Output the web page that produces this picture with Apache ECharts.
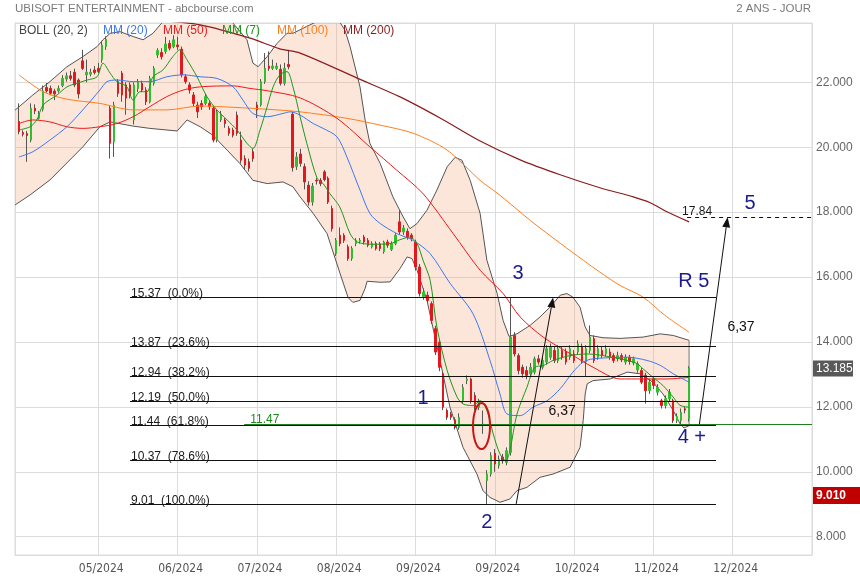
<!DOCTYPE html>
<html><head><meta charset="utf-8">
<script src="https://cdn.jsdelivr.net/npm/echarts@6/dist/echarts.min.js"></script>
<style>html,body{margin:0;padding:0;background:#fff}#c{width:860px;height:580px}</style>
</head><body><div id="c"></div>
<script>
// ---------- DATA ----------
const firstIndex = 1; // category index of the first candle
// candles: [open, close, low, high]
const candles = [
[20.79,20.48,20.40,21.35],[20.45,20.40,20.33,20.52],[20.42,20.36,19.55,20.50],[20.22,21.20,20.15,21.35],[21.20,21.12,21.02,21.32],
[20.89,21.04,20.85,21.12],[21.17,21.73,21.10,21.90],[21.84,21.73,21.68,21.98],[21.81,21.66,21.60,21.90],[21.73,21.64,21.45,21.80],
[21.73,21.81,21.68,21.90],[21.90,22.12,21.85,22.22],[22.10,22.20,22.02,22.30],[22.20,22.12,22.05,22.35],[22.31,21.92,21.85,22.42],
[22.07,21.64,21.50,22.12],[22.66,22.43,22.38,23.00],[22.23,22.31,22.00,22.70],[22.25,22.31,22.18,22.42],[22.38,22.30,22.24,22.50],
[22.43,22.33,22.28,22.60],[22.69,23.15,22.60,23.28],[23.10,23.33,23.00,23.42],[21.20,20.12,19.65,21.30],[20.17,21.30,19.70,21.40],
[22.02,21.66,21.55,22.10],[22.28,21.61,21.40,22.35],[21.92,21.51,21.00,22.00],[21.92,21.61,21.50,22.00],[20.84,21.92,20.70,22.00],
[21.81,22.02,21.70,22.10],[21.97,21.76,21.70,22.05],[21.76,21.40,21.30,21.85],[21.40,22.12,21.35,22.20],[21.97,22.43,21.90,22.50],
[22.84,22.98,22.75,23.05],[22.92,22.79,22.70,23.05],[22.95,23.18,22.88,23.40],[23.20,23.05,22.98,23.30],[23.10,23.31,23.05,23.45],
[23.15,23.10,23.00,23.40],[23.02,22.23,22.15,23.10],[22.17,22.02,21.95,22.25],[21.92,21.76,21.65,22.00],[21.61,21.35,21.25,21.70],
[21.30,21.09,20.90,21.40],[21.35,21.25,21.15,21.45],[21.35,21.56,21.30,21.65],[21.35,21.25,21.15,21.45],[21.20,20.22,20.15,21.25],
[20.22,21.09,20.15,21.15],[20.84,21.02,20.78,21.12],[20.84,20.73,20.60,20.90],[20.58,20.43,20.35,20.65],[20.53,20.37,20.30,20.60],
[20.99,20.43,20.35,21.10],[20.22,19.60,19.50,20.48],[19.65,19.45,19.30,19.75],[19.55,19.35,19.25,19.65],[19.86,19.65,19.55,19.95],
[21.30,21.15,20.90,21.40],[21.30,22.02,21.25,22.10],[22.02,22.43,21.95,22.90],[22.50,22.43,22.35,22.95],[22.43,22.50,22.38,22.70],
[22.43,22.50,22.38,22.60],[22.40,21.97,21.90,22.55],[21.97,22.43,21.90,22.60],[22.55,22.48,22.40,23.00],[21.02,19.37,19.25,21.10],
[19.40,19.70,19.30,19.85],[19.79,19.50,19.40,19.95],[19.40,18.93,18.70,19.50],[18.83,18.31,18.20,18.95],[18.31,18.80,18.20,18.90],
[18.98,18.96,18.85,19.05],[18.98,18.88,18.80,19.05],[19.24,19.00,18.95,19.30],[19.04,18.31,18.25,19.10],[18.11,17.49,17.40,18.20],
[16.72,17.13,16.65,17.20],[17.29,17.03,16.95,17.53],[17.29,17.13,17.05,17.35],[16.93,16.57,16.50,17.00],[16.57,16.88,16.50,16.95],
[17.03,17.13,16.95,17.20],[17.10,17.13,17.03,17.20],[17.23,17.08,17.00,17.30],[17.13,16.98,16.92,17.20],[16.93,17.03,16.88,17.10],
[17.03,16.88,16.82,17.10],[17.02,16.88,16.80,17.08],[16.78,17.08,16.72,17.12],[17.08,16.98,16.90,17.15],[16.85,17.03,16.80,17.10],
[17.03,17.29,16.98,17.35],[17.70,17.39,17.30,18.05],[17.39,17.51,17.30,17.60],[17.41,17.24,17.15,17.50],[17.29,17.19,17.10,17.35],
[17.08,16.31,16.20,17.15],[16.31,15.49,15.40,16.40],[15.40,15.54,15.30,15.65],[15.44,15.28,15.20,15.55],[15.18,14.66,14.55,15.25],
[14.41,13.69,13.60,14.50],[13.99,13.22,13.10,14.05],[13.02,11.99,11.90,13.10],[11.89,11.68,11.60,11.95],[11.78,11.68,11.60,11.85],
[11.60,11.37,11.30,11.68],[11.37,11.68,11.30,11.80],[12.19,12.60,12.10,12.70],[12.81,12.86,12.70,12.97],[12.86,12.19,12.10,12.90],
[12.35,11.99,11.90,12.45],[11.99,12.14,11.90,12.25],[11.47,11.44,11.17,11.89],[9.73,9.93,9.01,10.05],[9.93,10.50,9.85,10.60],
[10.57,10.24,10.00,10.70],[10.19,10.39,10.10,10.50],[10.45,10.34,10.25,10.55],[10.29,10.65,10.20,10.75],[10.60,14.15,10.50,15.37],
[14.20,13.63,13.55,14.30],[13.58,13.12,13.00,13.65],[13.22,13.02,12.90,13.30],[13.12,12.97,12.85,13.25],[13.02,13.22,12.95,13.35],
[13.07,13.48,13.00,13.55],[13.48,13.38,13.30,13.60],[13.22,13.43,13.15,13.55],[13.38,13.79,13.30,13.90],[13.53,13.84,13.45,13.95],
[13.74,13.43,13.35,13.85],[13.43,13.79,13.35,13.90],[13.74,13.53,13.45,13.85],[13.69,13.38,13.30,13.80],[13.53,13.79,13.45,13.90],
[13.63,13.43,13.35,13.75],[13.69,13.94,13.60,14.05],[13.86,13.43,13.35,13.95],[13.38,13.79,12.95,13.90],[13.74,14.15,13.65,14.51],
[14.10,13.43,13.35,14.20],[13.53,13.79,13.45,13.90],[13.74,13.58,13.50,13.85],[13.63,13.79,13.55,13.90],[13.69,13.53,13.45,13.80],
[13.58,13.43,13.35,13.65],[13.48,13.58,13.40,13.70],[13.58,13.45,13.38,13.65],[13.38,13.53,13.30,13.62],[13.53,13.40,13.30,13.60],
[13.35,13.48,13.28,13.55],[13.14,13.33,13.05,13.40],[13.12,12.76,12.70,13.20],[12.97,12.50,12.10,13.05],[12.50,12.76,12.40,12.85],
[12.86,12.66,12.55,12.95],[12.45,12.60,12.35,12.70],[12.19,12.04,11.95,12.25],[12.04,12.25,11.95,12.35],[12.25,12.45,12.15,12.55],
[12.19,11.58,11.50,12.25],[11.58,11.70,11.50,11.80],[11.58,11.83,11.47,11.95],[11.94,11.90,11.80,12.00],[11.63,13.185,11.55,13.25]
];
// indicator lines: [category index, value]
const mm7 = [[1,20.53],[3.8,20.63],[5.5,20.84],[7.1,21.30],[10.6,21.61],[13.1,21.86],[15.6,21.97],[18.2,22.07],[20.7,22.17],[22.2,22.59],[24,22.28],[25.7,22.02],[28.2,21.86],[29.8,21.45],[31.5,21.71],[33.3,21.71],[34.8,22.17],[37.3,22.38],[39.8,22.79],[41.6,23.0],[43.4,22.69],[45.9,22.17],[48.4,21.56],[50.9,21.15],[53.5,20.84],[56,20.53],[58.5,20.12],[60,19.96],[61.8,20.53],[63.6,21.25],[65.1,21.86],[66.8,22.23],[68.6,22.33],[70.1,21.86],[71.9,20.94],[73.6,20.12],[76.2,19.04],[77.7,18.88],[79.4,18.57],[81.9,18.16],[84.5,17.34],[86.3,17.08],[90.3,17.01],[94.6,17.03],[97.1,17.15],[99.6,17.23],[101.4,17.03],[102.9,16.52],[104.7,15.90],[106.4,14.46],[109,13.12],[111.5,12.30],[113,12.09],[115.5,12.04],[117.3,12.19],[119,11.89],[120.6,11.17],[122.3,10.55],[123.8,10.34],[124.8,10.65],[126.6,11.78],[129.1,12.60],[131.1,13.22],[133.2,13.27],[135.7,13.43],[140,13.58],[144.3,13.63],[148.3,13.58],[154.4,13.43],[156.9,13.33],[158.4,13.17],[160.9,12.91],[163.4,12.66],[166,12.30],[167.7,12.05],[170,11.99]];
const mm20 = [[1,19.70],[4.5,19.86],[8.8,20.22],[13.1,20.63],[17.1,21.15],[21.4,21.76],[23.2,22.02],[25.7,22.07],[29.8,22.02],[34,22.02],[38.3,22.17],[42.4,22.23],[46.7,22.17],[50.9,22.12],[55,21.86],[57.5,21.45],[60,21.04],[63.6,20.94],[67.6,21.04],[69.4,21.09],[71.9,20.99],[75.2,20.73],[77.7,20.58],[81.2,20.32],[83.7,19.70],[87,18.68],[89.5,17.96],[92.1,17.65],[96.3,17.34],[100.4,17.13],[104.7,16.72],[109.7,15.81],[115.5,14.87],[119.8,13.43],[122.3,12.40],[124.1,11.78],[127.4,11.73],[130.6,11.99],[134.2,12.19],[137.5,12.56],[140.7,13.07],[143.3,13.38],[145.8,13.48],[154.4,13.53],[159.4,13.43],[162.7,13.28],[166,13.02],[170,12.76]];
const mm50 = [[1,20.73],[4.5,20.84],[8.8,20.78],[13.1,20.63],[17.1,20.58],[21.4,20.63],[25.7,20.73],[29.8,20.94],[34,21.25],[38.3,21.56],[42.4,21.76],[46.7,21.86],[55,21.89],[59.3,21.81],[63.6,21.74],[71.9,21.52],[81.2,20.89],[89.5,20.01],[96.3,19.29],[102.9,18.57],[110.5,17.34],[117.3,16.21],[123.1,15.49],[127.4,14.77],[133.2,14.15],[140,13.64],[145.8,13.22],[152.6,12.86],[158.4,12.86],[164.4,12.86],[170,12.91]];
const mm100 = [[1,22.23],[7.1,21.71],[13.1,21.48],[21.4,21.35],[29.8,21.15],[38.3,21.15],[46.7,21.27],[55,21.23],[63.6,21.17],[71.9,21.09],[83.7,20.89],[92.1,20.68],[100.4,20.43],[109,19.91],[117.3,18.98],[122.3,18.52],[129.9,17.75],[137.5,17.04],[143.3,16.52],[147.5,16.15],[152.6,15.74],[158.4,15.38],[163.9,14.82],[170,14.30]];
const mm200 = [[36.6,23.90],[46.7,23.77],[59.3,23.36],[66.8,23.03],[71.9,22.90],[86.3,22.13],[97.1,21.55],[107.2,20.90],[117.3,20.19],[127.4,19.61],[137.5,19.15],[147.5,18.75],[155.9,18.47],[160.2,18.29],[164.4,18.01],[170,17.70]];
const bollUpper = [[0,21.14],[4.5,21.61],[8.8,22.02],[13.1,22.48],[17.1,22.79],[20.7,23.10],[22.2,23.31],[24,23.51],[26.5,23.56],[29.8,23.41],[32.3,23.31],[34.8,23.51],[36.6,23.77],[39.1,24.08],[46.7,24.40],[53,24.17],[55,23.82],[58.5,23.31],[60,22.59],[61.3,22.48],[63.6,22.79],[66.1,23.20],[68.6,23.51],[70.1,23.51],[73.6,23.72],[76.9,23.92],[80.7,24.08],[83.2,23.61],[84.5,23.10],[87,21.86],[88.3,20.84],[89.5,20.12],[92.1,19.50],[95.3,18.47],[97.9,17.85],[99.6,17.49],[101.4,17.65],[103.9,18.06],[106.4,18.68],[109,19.40],[111,19.69],[112.7,19.60],[114.8,18.98],[117.3,17.96],[119,16.52],[121.6,15.49],[123.1,14.66],[124.6,14.17],[126.6,14.25],[129.9,14.51],[132.4,14.77],[134.9,15.07],[137.5,15.44],[139.2,15.49],[140.7,15.38],[142.5,15.07],[143.8,14.46],[145,14.20],[148.3,14.13],[152.6,14.11],[158.4,14.15],[162.7,14.25],[166,14.20],[170,14.05]];
const bollLower = [[0,18.22],[3.8,18.53],[8.8,18.99],[17.1,20.01],[21.4,20.63],[24,20.78],[29.8,20.65],[34,20.58],[40.9,20.50],[43.4,20.84],[46.7,20.63],[49.9,20.37],[53.5,19.91],[56.7,19.50],[60,18.98],[63.6,18.88],[67.6,18.93],[70.1,18.78],[71.9,18.47],[75.2,17.96],[78.7,17.34],[82,16.10],[84,15.37],[85.2,15.22],[87,15.28],[88.3,15.65],[88.8,15.87],[92.1,15.84],[94.6,15.85],[97.1,16.26],[98.9,16.62],[100.1,16.57],[101.4,16.21],[103.9,15.28],[107.2,13.43],[109.7,11.99],[113,10.75],[116.5,9.93],[118,9.42],[119.8,9.21],[122.3,9.06],[124.8,9.16],[126.6,9.42],[129.1,9.52],[132.4,9.83],[135.7,9.93],[140,10.14],[142.5,10.75],[143.3,11.58],[143.8,12.40],[144.3,12.71],[145.8,12.81],[150.1,12.86],[154.4,13.07],[157.6,13.02],[160.9,12.76],[163.4,12.40],[166,11.89],[167.7,11.48],[168.7,11.35],[170,11.42]];
// Fibonacci retracement
const fibLevels = [15.37, 13.87, 12.94, 12.19, 11.44, 10.37, 9.01];
const fibPct = ['0.0%','23.6%','38.2%','50.0%','61.8%','78.6%','100.0%'];
const fibSpan = [29, 176.8];
const supportLevel = 11.47, supportSpan = [57.8, 201];
const targetLevel = 17.84, targetSpan = [169.5, 201];
const arrows = [{from:[126.4, 9.01], to:[135.7, 15.37], text:'6,37', at:[138.0, 11.86]},
                {from:[172.6, 11.47], to:[179.7, 17.84], text:'6,37', at:[183.1, 14.46]}];
const waveLabels = [['1',102.9,12.27],['2',119.0,8.45],['3',126.9,16.12],['4 +',170.7,11.07],['R 5',171.2,15.86],['5',185.4,18.28]];
const ellipse = {j:117.65, v:11.41};
const lowestLow = 9.01;
const legendItems = [['BOLL (20, 2)','#444444'],['MM (20)','#3c78f0'],['MM (50)','#f01818'],['MM (7)','#1e961e'],['MM (100)','#ff7f1e'],['MM (200)','#8c1c1c']];

// trading-day categories
const holidays = ['2024-05-01','2024-12-25','2024-12-26'];
const dates = [];
for (let d = new Date(Date.UTC(2024,3,11)); dates.length < 202; d.setUTCDate(d.getUTCDate()+1)) {
  const wd = d.getUTCDay(), s = d.toISOString().slice(0,10);
  if (wd !== 0 && wd !== 6 && holidays.indexOf(s) < 0) dates.push(s);
}
const candleData = dates.map((_, i) => candles[i - firstIndex] || '-');
const bodyData = dates.map((_, i) => { const r = candles[i - firstIndex]; return r ? [r[0], r[1], Math.min(r[0], r[1]), Math.max(r[0], r[1])] : '-'; });
const lastClose = candles[candles.length - 1][1];

// ---------- CHART ----------
const FONT = '"Liberation Sans", Arial, sans-serif';
const chart = echarts.init(document.getElementById('c'), null, {renderer:'canvas'});
const navy = '#1b1b8f';

function renderBoll(params, api) {
  const up = bollUpper.map(p => api.coord(p));
  const lo = bollLower.map(p => api.coord(p));
  const cs = params.coordSys;
  return {type:'group', clipPath:{type:'rect', shape:{x:cs.x, y:cs.y, width:cs.width, height:cs.height}}, children:[
    {type:'polygon', shape:{points: up.concat(lo.slice().reverse())}, style:{fill:'rgba(245,165,120,0.28)', stroke:null}},
    {type:'polyline', shape:{points: up}, style:{stroke:'#555', lineWidth:1, fill:null}},
    {type:'polyline', shape:{points: lo}, style:{stroke:'#555', lineWidth:1, fill:null}},
    {type:'line', shape:{x1:up[up.length-1][0], y1:up[up.length-1][1], x2:lo[lo.length-1][0], y2:lo[lo.length-1][1]}, style:{stroke:'#777', lineWidth:1}}
  ]};
}

function txt(text, x, y, color, size, align, valign, weight) {
  return {type:'text', style:{text, x, y, fill:color, font:(weight||'normal')+' '+size+'px '+FONT, align:align||'left', verticalAlign:valign||'middle'}};
}

function renderAnnot(params, api) {
  const P = (j, v) => api.coord([j, v]);
  const ch = [];
  const hline = (j1, j2, v, color, dash) => {
    const a = P(j1, v), b = P(j2, v), y = Math.round(a[1]) + 0.5;
    ch.push({type:'line', shape:{x1:a[0], y1:y, x2:b[0], y2:y}, style:{stroke:color, lineWidth:1, lineDash:dash||null}});
    return [a[0], y];
  };
  fibLevels.forEach((lv, k) => {
    const a = hline(fibSpan[0], fibSpan[1], lv, '#111');
    ch.push(txt(lv.toFixed(2) + '  (' + fibPct[k] + ')', a[0] + 1, a[1] + 2, '#1a1a1a', 12, 'left', 'bottom'));
  });
  const s = hline(supportSpan[0], supportSpan[1], supportLevel, '#1e7f1e');
  ch.push(txt(supportLevel.toFixed(2), P(supportSpan[0], supportLevel)[0] + 6, s[1] + 1, '#1e8a1e', 12, 'left', 'bottom'));
  const t = hline(targetSpan[0], targetSpan[1], targetLevel, '#111', [4, 4]);
  ch.push(txt(targetLevel.toFixed(2), t[0] - 5, t[1] - 0, '#1a1a1a', 12, 'left', 'bottom'));
  arrows.forEach(ar => {
    const a = P(ar.from[0], ar.from[1]), b = P(ar.to[0], ar.to[1]);
    const dx = b[0] - a[0], dy = b[1] - a[1], L = Math.hypot(dx, dy), ux = dx / L, uy = dy / L;
    const bx = b[0] - ux * 10, by = b[1] - uy * 10;
    ch.push({type:'line', shape:{x1:a[0], y1:a[1], x2:bx, y2:by}, style:{stroke:'#111', lineWidth:1}});
    ch.push({type:'polygon', shape:{points:[[b[0], b[1]], [bx - uy * 4, by + ux * 4], [bx + uy * 4, by - ux * 4]]}, style:{fill:'#111'}});
    const c = P(ar.at[0], ar.at[1]);
    ch.push(txt(ar.text, c[0], c[1], '#111', 14, 'center', 'middle'));
  });
  waveLabels.forEach(w => { const c = P(w[1], w[2]); ch.push(txt(w[0], c[0], c[1], navy, 20, 'center', 'middle')); });
  const e = P(ellipse.j, ellipse.v);
  ch.push({type:'ellipse', shape:{cx:e[0], cy:e[1], rx:8.5, ry:23}, style:{fill:'none', stroke:'#cc1414', lineWidth:2}});
  // price tags on the right axis
  const xr = P(201, lastClose)[0];
  const yc = P(0, lastClose)[1];
  ch.push({type:'rect', shape:{x:xr + 1, y:yc - 8, width:40, height:16}, style:{fill:'#595959'}});
  ch.push(txt(lastClose.toFixed(3), xr + 4, yc, '#fff', 12, 'left', 'middle'));
  const yl = P(0, lowestLow)[1] - 9;
  ch.push({type:'rect', shape:{x:xr + 1, y:yl - 8, width:48, height:17}, style:{fill:'#c00000'}});
  ch.push(txt(lowestLow.toFixed(3), xr + 4, yl + 0.5, '#fff', 12, 'left', 'middle', 'bold'));
  return {type:'group', children: ch};
}

const legendX = [19, 103, 163, 222, 277, 343];
const graphics = [
  {type:'text', left:15, top:3, style:{text:'UBISOFT ENTERTAINMENT - abcbourse.com', fill:'#7a7a7a', font:'11.5px ' + FONT}},
  {type:'text', right:49, top:3, style:{text:'2 ANS - JOUR', fill:'#7a7a7a', font:'11.5px ' + FONT}}
].concat(legendItems.map((it, k) => ({type:'text', left:legendX[k], top:25, z:100, style:{text:it[0], fill:it[1], font:'12px ' + FONT}})));

const lineSeries = (name, data, color, w) => ({
  name, type:'line', xAxisIndex:1, yAxisIndex:0, data, showSymbol:false, smooth:0.3, z:4, silent:true,
  lineStyle:{color, width:w || 1}, clip:true
});

chart.setOption({
  animation:false,
  backgroundColor:'#fff',
  graphic: graphics,
  grid:{left:15, right:48, top:23, bottom:25, containLabel:false, show:true, borderColor:'#dcdcdc', borderWidth:1},
  xAxis:[{
    type:'category', data:dates, boundaryGap:false,
    axisLine:{show:true, lineStyle:{color:'#dcdcdc'}}, axisTick:{show:false},
    axisLabel:{interval:(i) => i % 20 === 1 && i >= 21 && i <= 181,
      formatter:(d) => d.slice(5,7) + '/' + d.slice(0,4),
      color:'#555', fontSize:12, fontFamily:'"Liberation Sans Narrow", "DejaVu Sans Condensed", "Liberation Sans", Arial', margin:8, padding:[0,0,0,6]},
    splitLine:{show:true, interval:(i) => i === 0 || i === 201 || (i % 20 === 1 && i >= 21), lineStyle:{color:'#dcdcdc'}}
  }, {type:'value', min:0, max:201, show:false}],
  yAxis:{
    type:'value', position:'right', min:7.436, max:23.827, splitNumber:8,
    axisLine:{show:true, lineStyle:{color:'#dcdcdc'}}, axisTick:{show:false},
    axisLabel:{color:'#666', fontSize:12, fontFamily:FONT, margin:4, showMinLabel:false, showMaxLabel:false,
      formatter:(v) => (Math.abs(v - Math.round(v)) < 1e-6 && Math.round(v) % 2 === 0) ? v.toFixed(3) : ''},
    splitLine:{show:true, lineStyle:{color:'#dcdcdc'}}
  },
  series:[
    {type:'custom', name:'BOLL (20, 2)', xAxisIndex:1, yAxisIndex:0, data:[[0, 15]], renderItem:renderBoll, z:1, silent:true},
    {type:'candlestick', name:'wicks', xAxisIndex:0, yAxisIndex:0, data:candleData, barWidth:1, z:2, silent:true,
      itemStyle:{color:'#555', color0:'#555', borderColor:'#555', borderColor0:'#555', borderWidth:1}},
    {type:'candlestick', name:'UBISOFT', xAxisIndex:0, yAxisIndex:0, data:bodyData, barWidth:2, z:3, silent:true,
      itemStyle:{color:'#2fbf2f', color0:'#e0191e', borderColor:'#2fbf2f', borderColor0:'#e0191e', borderWidth:1}},
    lineSeries('MM (200)', mm200, '#8c1c1c', 1.2),
    lineSeries('MM (100)', mm100, '#ff7f1e'),
    lineSeries('MM (50)', mm50, '#f01818'),
    lineSeries('MM (20)', mm20, '#3c78f0'),
    lineSeries('MM (7)', mm7, '#1e961e'),
    {type:'custom', name:'annotations', xAxisIndex:1, yAxisIndex:0, data:[[0, 15]], renderItem:renderAnnot, z:6, silent:true}
  ]
});
</script></body></html>
